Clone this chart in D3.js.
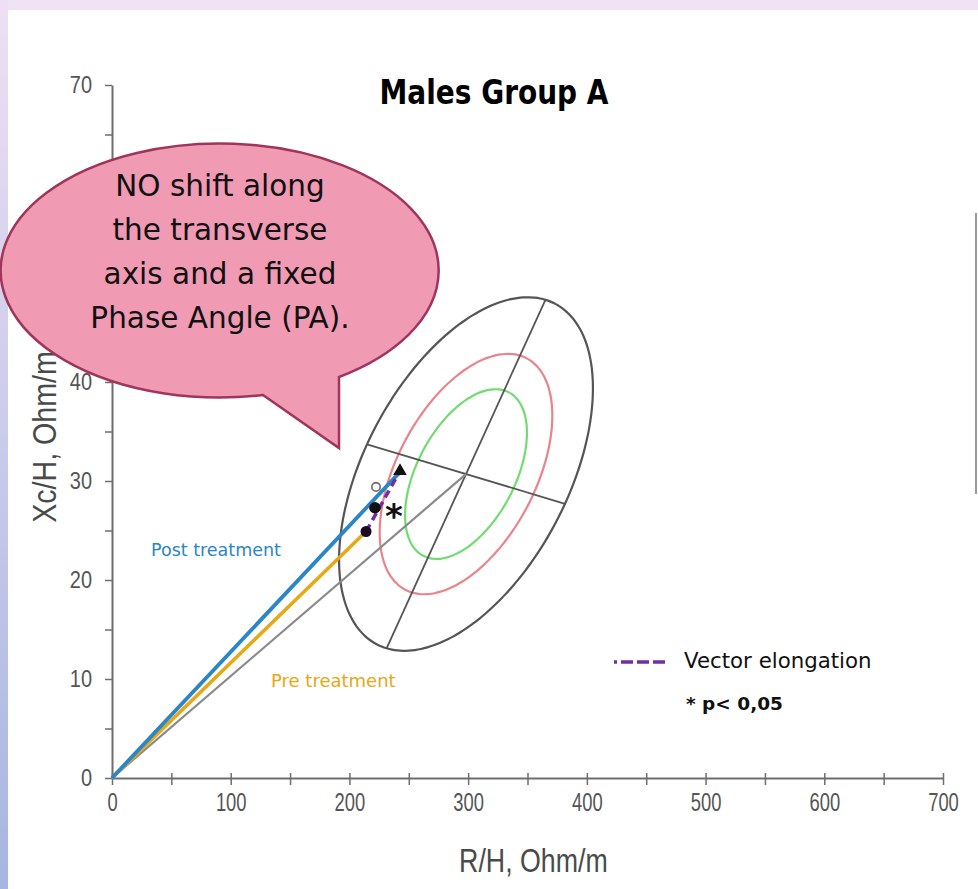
<!DOCTYPE html>
<html>
<head>
<meta charset="utf-8">
<script src="https://cdn.jsdelivr.net/npm/d3@7"></script>
<style>
  html, body { margin: 0; padding: 0; background: #fff; }
  svg { display: block; }
</style>
</head>
<body>
<svg id="chart" width="978" height="889"></svg>
<script>
// ---------------- DATA ----------------
const xTickValues = [0, 50, 100, 150, 200, 250, 300, 350, 400, 450, 500, 550, 600, 650, 700];
const xTickLabels = ["0", "", "100", "", "200", "", "300", "", "400", "", "500", "", "600", "", "700"];
const yTickValues = [0, 5, 10, 15, 20, 25, 30, 35, 40, 45, 50, 55, 60, 65, 70];
const yTickLabels = ["0", "", "10", "", "20", "", "30", "", "40", "", "50", "", "60", "", "70"];

// reference population (RXc tolerance ellipses)
const ellipseCenter = [298.2, 30.7];
const ellipseMajorSemiAxis = [66.9, 17.6];
const ellipseMinorSemiAxis = [83.4, -3.0];
const toleranceLevels = ["95%", "75%", "50%"];
const toleranceScale = [1.0, 0.68, 0.48];
const toleranceColors = ["#555555", "#e8848c", "#72dc72"];

// group vectors
const preTreatment = [214.0, 24.9];
const postTreatment = [242.6, 31.0];
const intermediatePoint = [221.5, 27.3];
const openPoint = [222.4, 29.4];

const titleText = "Males Group A";
const xTitle = "R/H, Ohm/m";
const yTitle = "Xc/H, Ohm/m";
const bubbleLines = ["NO shift along", "the transverse", "axis and a fixed", "Phase Angle (PA)."];

// ---------------- SETUP ----------------
const svg = d3.select("#chart");
const x = d3.scaleLinear().domain([0, 700]).range([112, 943]);
const y = d3.scaleLinear().domain([0, 70]).range([778, 85]);

// slide background borders
const defs = svg.append("defs");
const lg = defs.append("linearGradient").attr("id", "leftBand")
  .attr("x1", 0).attr("y1", 0).attr("x2", 0).attr("y2", 1);
lg.append("stop").attr("offset", "0%").attr("stop-color", "#eedff4");
lg.append("stop").attr("offset", "100%").attr("stop-color", "#a6b6e0");
svg.append("rect").attr("x", 0).attr("y", 0).attr("width", 978).attr("height", 10).attr("fill", "#f0e3f5");
svg.append("rect").attr("x", 0).attr("y", 0).attr("width", 8).attr("height", 889).attr("fill", "url(#leftBand)");
svg.append("line").attr("x1", 976).attr("x2", 976).attr("y1", 213).attr("y2", 494)
  .attr("stroke", "#9a9a9a").attr("stroke-width", 2);

// ---------------- AXES ----------------
const axisColor = "#6e6e6e";
const labelColor = "#555555";

const xAxis = d3.axisBottom(x).tickValues(xTickValues)
  .tickFormat((d, i) => xTickLabels[i]).tickSizeInner(7).tickSizeOuter(0).tickPadding(9);
const gx = svg.append("g").attr("transform", `translate(0,${y(0)})`).call(xAxis);
gx.select(".domain").attr("stroke", axisColor).attr("stroke-width", 2);
gx.selectAll(".tick line").attr("stroke", axisColor).attr("stroke-width", 1.5).attr("y1", -5);
gx.selectAll(".tick text")
  .attr("font-family", "Liberation Sans, Arial, sans-serif").attr("font-size", 20)
  .attr("fill", labelColor)
  .attr("transform", "scale(0.92,1.25)").attr("y", 12.5);

const yAxis = d3.axisLeft(y).tickValues(yTickValues)
  .tickFormat((d, i) => yTickLabels[i]).tickSizeInner(7).tickSizeOuter(0).tickPadding(13);
const gy = svg.append("g").attr("transform", `translate(${x(0)},0)`).call(yAxis);
gy.select(".domain").attr("stroke", axisColor).attr("stroke-width", 2);
gy.selectAll(".tick line").attr("stroke", axisColor).attr("stroke-width", 1.5);
gy.selectAll(".tick text")
  .attr("font-family", "Liberation Sans, Arial, sans-serif").attr("font-size", 20)
  .attr("fill", labelColor)
  .attr("transform", "scale(1,1.2)").attr("dy", "0.3em");

svg.append("text").text(xTitle)
  .attr("transform", `translate(${x(355)},872) scale(1.03,1.3)`)
  .attr("text-anchor", "middle")
  .attr("font-family", "Liberation Sans, Arial, sans-serif").attr("font-size", 26)
  .attr("fill", "#4a4a4a");

svg.append("text").text(yTitle)
  .attr("transform", `translate(56,437) rotate(-90) scale(1.1,1.25)`)
  .attr("text-anchor", "middle")
  .attr("font-family", "Liberation Sans, Arial, sans-serif").attr("font-size", 26)
  .attr("fill", "#4a4a4a");

// ---------------- ELLIPSES ----------------
const angles = d3.range(0, 360, 3).map(d => d * Math.PI / 180);
function ellipsePoints(k) {
  return angles.map(t => [
    ellipseCenter[0] + k * (ellipseMajorSemiAxis[0] * Math.cos(t) + ellipseMinorSemiAxis[0] * Math.sin(t)),
    ellipseCenter[1] + k * (ellipseMajorSemiAxis[1] * Math.cos(t) + ellipseMinorSemiAxis[1] * Math.sin(t))
  ]);
}
const lineGen = d3.line().x(d => x(d[0])).y(d => y(d[1])).curve(d3.curveCardinalClosed);
svg.append("g").selectAll("path").data(toleranceScale).join("path")
  .attr("d", k => lineGen(ellipsePoints(k)))
  .attr("fill", "none")
  .attr("stroke", (k, i) => toleranceColors[i])
  .attr("stroke-width", 2.2);

// ellipse axes
const axesSegs = [
  [[ellipseCenter[0] - ellipseMajorSemiAxis[0], ellipseCenter[1] - ellipseMajorSemiAxis[1]],
   [ellipseCenter[0] + ellipseMajorSemiAxis[0], ellipseCenter[1] + ellipseMajorSemiAxis[1]]],
  [[ellipseCenter[0] - ellipseMinorSemiAxis[0], ellipseCenter[1] - ellipseMinorSemiAxis[1]],
   [ellipseCenter[0] + ellipseMinorSemiAxis[0], ellipseCenter[1] + ellipseMinorSemiAxis[1]]]
];
svg.append("g").selectAll("line").data(axesSegs).join("line")
  .attr("x1", d => x(d[0][0])).attr("y1", d => y(d[0][1]))
  .attr("x2", d => x(d[1][0])).attr("y2", d => y(d[1][1]))
  .attr("stroke", "#555").attr("stroke-width", 1.8);

// mean reference vector
svg.append("line")
  .attr("x1", x(0)).attr("y1", y(0)).attr("x2", x(ellipseCenter[0])).attr("y2", y(ellipseCenter[1]))
  .attr("stroke", "#8a8a8a").attr("stroke-width", 2.2);

// ---------------- VECTORS ----------------
svg.append("line")
  .attr("x1", x(0)).attr("y1", y(0)).attr("x2", x(preTreatment[0])).attr("y2", y(preTreatment[1]))
  .attr("stroke", "#e6a816").attr("stroke-width", 3.5);
svg.append("line")
  .attr("x1", x(0)).attr("y1", y(0)).attr("x2", x(postTreatment[0]) - 2).attr("y2", y(postTreatment[1]) + 3)
  .attr("stroke", "#2a86c6").attr("stroke-width", 3.8);

svg.append("line")
  .attr("x1", x(preTreatment[0])).attr("y1", y(preTreatment[1]))
  .attr("x2", x(postTreatment[0])).attr("y2", y(postTreatment[1]))
  .attr("stroke", "#7030a0").attr("stroke-width", 3.5).attr("stroke-dasharray", "8,5");

// markers
svg.append("circle").attr("cx", x(openPoint[0])).attr("cy", y(openPoint[1])).attr("r", 4.2)
  .attr("fill", "#fff").attr("stroke", "#777").attr("stroke-width", 1.8);
svg.append("circle").attr("cx", x(intermediatePoint[0])).attr("cy", y(intermediatePoint[1])).attr("r", 5.8)
  .attr("fill", "#111");
svg.append("circle").attr("cx", x(preTreatment[0])).attr("cy", y(preTreatment[1])).attr("r", 5.5)
  .attr("fill", "#1a0a22");
svg.append("path").attr("d", d3.symbol().type(d3.symbolTriangle).size(80)())
  .attr("transform", `translate(${x(postTreatment[0])},${y(postTreatment[1])})`)
  .attr("fill", "#111");

svg.append("text").text("*")
  .attr("x", x(intermediatePoint[0]) + 19).attr("y", y(intermediatePoint[1]) + 20)
  .attr("text-anchor", "middle")
  .attr("font-family", "DejaVu Sans, sans-serif").attr("font-weight", "bold").attr("font-size", 34)
  .attr("fill", "#111");

// labels
svg.append("text").text("Post treatment").attr("x", 151).attr("y", 556)
  .attr("font-family", "DejaVu Sans, sans-serif").attr("font-size", 17.5).attr("fill", "#2a86c6");
svg.append("text").text("Pre treatment").attr("x", 271).attr("y", 687)
  .attr("font-family", "DejaVu Sans, sans-serif").attr("font-size", 18).attr("fill", "#e6a816");

// legend
svg.append("line").attr("x1", 614).attr("x2", 666).attr("y1", 662).attr("y2", 662)
  .attr("stroke", "#7030a0").attr("stroke-width", 3.5).attr("stroke-dasharray", "3,4,12,4,12,4,12");
svg.append("text").text("Vector elongation").attr("x", 684).attr("y", 668)
  .attr("font-family", "DejaVu Sans, sans-serif").attr("font-size", 21.3).attr("fill", "#111");
svg.append("text").text("* p< 0,05").attr("x", 686).attr("y", 710)
  .attr("font-family", "DejaVu Sans, sans-serif").attr("font-weight", "bold").attr("font-size", 18.5).attr("fill", "#111");

// title
svg.append("text").text(titleText)
  .attr("transform", "translate(494,104) scale(1,1.2)")
  .attr("text-anchor", "middle")
  .attr("font-family", "DejaVu Sans, sans-serif").attr("font-weight", "bold").attr("font-size", 28)
  .attr("fill", "#000");

// ---------------- CALLOUT ----------------
const bub = svg.append("g");
bub.append("path")
  .attr("d", "M 263 395 A 219 127 0 1 1 339 377 L 339 448 Z")
  .attr("fill", "#f09ab4").attr("stroke", "#a0355c").attr("stroke-width", 2.5)
  .attr("stroke-linejoin", "miter");
bub.selectAll("text").data(bubbleLines).join("text")
  .text(d => d)
  .attr("x", 220).attr("y", (d, i) => 196 + i * 44)
  .attr("text-anchor", "middle")
  .attr("font-family", "DejaVu Sans, sans-serif").attr("font-size", 29.5)
  .attr("fill", "#111");
</script>
</body>
</html>
